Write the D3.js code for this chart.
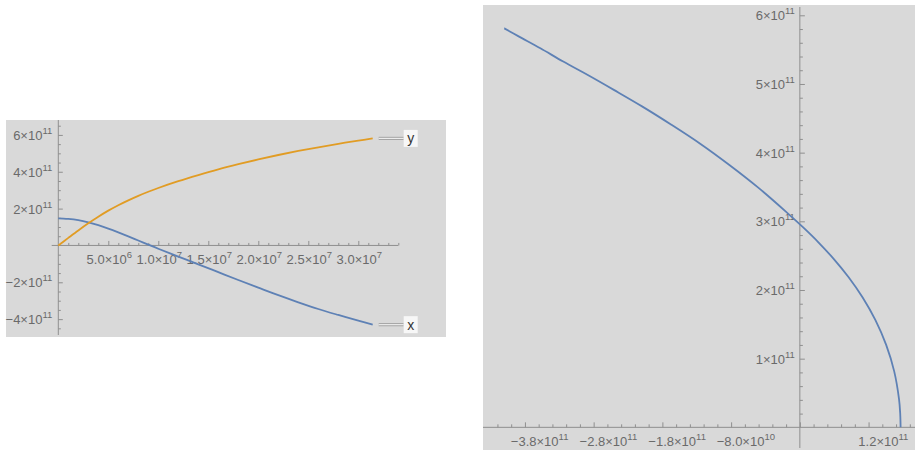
<!DOCTYPE html>
<html>
<head>
<meta charset="utf-8">
<script src="https://cdn.jsdelivr.net/npm/d3@7"></script>
<style>
  html, body { margin: 0; padding: 0; background: #fff; }
  svg { display: block; font-family: "Liberation Sans", Arial, sans-serif; }
</style>
</head>
<body>
<div id="app"></div>
<script>
// time samples (s) and the two coordinates (m)
const tValues = [0, 0.5e6, 1e6, 2e6, 3e6, 4e6, 5e6, 6e6, 7e6, 8e6, 9e6, 1e7, 1.2e7, 1.4e7, 1.6e7, 1.8e7, 2e7, 2.2e7, 2.4e7, 2.6e7, 2.8e7, 3e7, 3.144e7];
const xValues = [1.466e11, 1.460e11, 1.443e11, 1.373e11, 1.256e11, 1.100e11, 0.914e11, 0.710e11, 0.495e11, 0.270e11, 0.045e11, -0.18e11, -0.605e11, -1.025e11, -1.45e11, -1.875e11, -2.29e11, -2.70e11, -3.085e11, -3.45e11, -3.775e11, -4.085e11, -4.30e11];
const yValues = [0, 0.205e11, 0.41e11, 0.815e11, 1.20e11, 1.56e11, 1.89e11, 2.185e11, 2.45e11, 2.695e11, 2.915e11, 3.12e11, 3.49e11, 3.82e11, 4.13e11, 4.41e11, 4.67e11, 4.91e11, 5.13e11, 5.33e11, 5.52e11, 5.69e11, 5.81e11];

const seriesNames = ['x', 'y'];

// tick labels: [value, mantissa, exponent]
const leftXTicks = [[5e6, '5.0', '6'], [1e7, '1.0', '7'], [1.5e7, '1.5', '7'], [2e7, '2.0', '7'], [2.5e7, '2.5', '7'], [3e7, '3.0', '7']];
const leftYTicks = [[-4e11, '\u22124', '11'], [-2e11, '\u22122', '11'], [2e11, '2', '11'], [4e11, '4', '11'], [6e11, '6', '11']];
const rightXTicks = [[-3.8e11, '\u22123.8', '11'], [-2.8e11, '\u22122.8', '11'], [-1.8e11, '\u22121.8', '11'], [-8e10, '\u22128.0', '10'], [1.2e11, '1.2', '11']];
const rightYTicks = [[1e11, '1', '11'], [2e11, '2', '11'], [3e11, '3', '11'], [4e11, '4', '11'], [5e11, '5', '11'], [6e11, '6', '11']];

const blue = '#5e81b5';
const orange = '#e19c24';
const bg = '#d9d9d9';
const axisColor = '#8f8f8f';
const labelColor = '#6a6a6a';

const points = tValues.map((t, i) => ({ t, x: xValues[i], y: yValues[i] }));

const svg = d3.select('#app').append('svg')
  .attr('width', 915)
  .attr('height', 451);

function range(a, b, step) {
  const out = [];
  for (let v = a; v <= b + step * 1e-6; v += step) out.push(Math.round(v / step) * step);
  return out;
}

function tickLabel(g, x, y, mant, exp, anchor) {
  const txt = g.append('text')
    .attr('x', x)
    .attr('y', y)
    .attr('text-anchor', anchor)
    .attr('fill', labelColor)
    .style('font-size', '13px');
  txt.append('tspan').text(mant + '\u00d710');
  txt.append('tspan').attr('dy', -6).style('font-size', '9.5px').text(exp);
}

function styleAxis(g) {
  g.select('.domain').remove();
  g.selectAll('.tick line').attr('stroke', axisColor).attr('stroke-width', 1);
}

function legendTag(g, xEnd, yEnd, name) {
  const x0 = xEnd + 6, x1 = xEnd + 31;
  g.append('line').attr('x1', x0).attr('x2', x1).attr('y1', yEnd).attr('y2', yEnd)
    .attr('stroke', '#a5a5a5').attr('stroke-width', 3.2);
  g.append('line').attr('x1', x0).attr('x2', x1).attr('y1', yEnd).attr('y2', yEnd)
    .attr('stroke', '#ececec').attr('stroke-width', 1.2);
  g.append('rect').attr('x', x1).attr('y', yEnd - 8.5).attr('width', 14).attr('height', 17)
    .attr('fill', '#f7f7f7');
  g.append('text').attr('x', x1 + 7).attr('y', yEnd + 5).attr('text-anchor', 'middle')
    .attr('fill', '#333').style('font-size', '14px').text(name);
}

// ---------- left plot: x(t), y(t) ----------
const L = { left: 6, right: 446, top: 120, bottom: 337 };
const tx = d3.scaleLinear().domain([-0.523e7, 3.877e7]).range([L.left, L.right]);
const ly = d3.scaleLinear().domain([-4.97e11, 6.81e11]).range([L.bottom, L.top]);

const left = svg.append('g');
left.append('rect').attr('x', L.left).attr('y', L.top)
  .attr('width', L.right - L.left).attr('height', L.bottom - L.top).attr('fill', bg);

// x axis
left.append('line').attr('x1', tx(-0.66e6)).attr('x2', tx(3.4e7))
  .attr('y1', ly(0)).attr('y2', ly(0)).attr('stroke', axisColor);
left.append('g').attr('transform', `translate(0,${ly(0)})`)
  .call(d3.axisTop(tx).tickValues(range(1e6, 3.4e7, 1e6).filter(v => v % 5e6 !== 0)).tickSize(2.5).tickFormat(''))
  .call(styleAxis);
left.append('g').attr('transform', `translate(0,${ly(0)})`)
  .call(d3.axisTop(tx).tickValues(range(5e6, 3e7, 5e6)).tickSize(4.5).tickFormat(''))
  .call(styleAxis);
leftXTicks.forEach(d => tickLabel(left, tx(d[0]) + 1, ly(0) + 19, d[1], d[2], 'middle'));

// y axis
left.append('line').attr('x1', tx(0)).attr('x2', tx(0))
  .attr('y1', L.top).attr('y2', L.bottom - 2).attr('stroke', axisColor);
left.append('g').attr('transform', `translate(${tx(0)},0)`)
  .call(d3.axisRight(ly).tickValues(range(-4.5e11, 6.5e11, 0.5e11).filter(v => v !== 0 && Math.abs(v) % 2e11 !== 0)).tickSize(2.5).tickFormat(''))
  .call(styleAxis);
left.append('g').attr('transform', `translate(${tx(0)},0)`)
  .call(d3.axisRight(ly).tickValues(leftYTicks.map(d => d[0])).tickSize(4.5).tickFormat(''))
  .call(styleAxis);
leftYTicks.forEach(d => tickLabel(left, tx(0) - 6, ly(d[0]) + 5, d[1], d[2], 'end'));

const lineX = d3.line().x(d => tx(d.t)).y(d => ly(d.x)).curve(d3.curveCatmullRom.alpha(0.5));
const lineY = d3.line().x(d => tx(d.t)).y(d => ly(d.y)).curve(d3.curveCatmullRom.alpha(0.5));

left.append('path').datum(points).attr('d', lineX)
  .attr('fill', 'none').attr('stroke', blue).attr('stroke-width', 1.8);
left.append('path').datum(points).attr('d', lineY)
  .attr('fill', 'none').attr('stroke', orange).attr('stroke-width', 1.8);

const last = points[points.length - 1];
legendTag(left, tx(last.t), ly(last.y), seriesNames[1]);
legendTag(left, tx(last.t), ly(last.x), seriesNames[0]);

// ---------- right plot: parametric y vs x ----------
const R = { left: 483, right: 916, top: 5, bottom: 450 };
const px = d3.scaleLinear().domain([-4.61e11, 1.69e11]).range([R.left, R.right]);
const py = d3.scaleLinear().domain([-0.33e11, 6.15e11]).range([R.bottom, R.top]);

const right = svg.append('g');
right.append('rect').attr('x', R.left).attr('y', R.top)
  .attr('width', R.right - R.left).attr('height', R.bottom - R.top).attr('fill', bg);

right.append('line').attr('x1', R.left).attr('x2', R.right)
  .attr('y1', py(0)).attr('y2', py(0)).attr('stroke', axisColor);
const majorX = range(-3.8e11, 1.2e11, 1e11);
right.append('g').attr('transform', `translate(0,${py(0)})`)
  .call(d3.axisTop(px).tickValues(range(-4.4e11, 1.6e11, 2e10).filter(v => !majorX.some(m => Math.abs(m - v) < 1e9) && Math.abs(v) > 1e9)).tickSize(3).tickFormat(''))
  .call(styleAxis);
right.append('g').attr('transform', `translate(0,${py(0)})`)
  .call(d3.axisTop(px).tickValues(majorX).tickSize(5).tickFormat(''))
  .call(styleAxis);
rightXTicks.forEach(d => tickLabel(right, px(d[0]) + 1, py(0) + 19, d[1], d[2], 'middle'));

right.append('line').attr('x1', px(0)).attr('x2', px(0))
  .attr('y1', R.top + 2).attr('y2', R.bottom - 2).attr('stroke', axisColor);
right.append('g').attr('transform', `translate(${px(0)},0)`)
  .call(d3.axisRight(py).tickValues(range(2e10, 6e11, 2e10).filter(v => Math.round(v / 1e10) % 10 !== 0)).tickSize(3).tickFormat(''))
  .call(styleAxis);
right.append('g').attr('transform', `translate(${px(0)},0)`)
  .call(d3.axisRight(py).tickValues(rightYTicks.map(d => d[0])).tickSize(5).tickFormat(''))
  .call(styleAxis);
rightYTicks.forEach(d => tickLabel(right, px(0) - 5, py(d[0]) + 5, d[1], d[2], 'end'));

const orbit = d3.line().x(d => px(d.x)).y(d => py(d.y)).curve(d3.curveCatmullRom.alpha(0.5));
right.append('path').datum(points).attr('d', orbit)
  .attr('fill', 'none').attr('stroke', blue).attr('stroke-width', 1.8);
</script>
</body>
</html>
